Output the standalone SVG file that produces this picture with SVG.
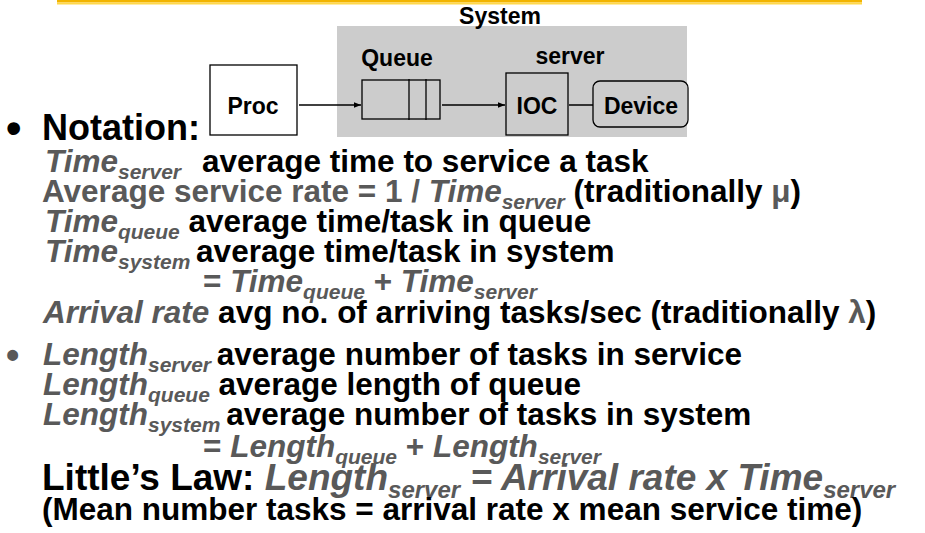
<svg xmlns="http://www.w3.org/2000/svg" width="925" height="533" viewBox="0 0 925 533">
  <style>
    text { font-family: "Liberation Sans", Arial, sans-serif; font-weight: bold; }
    .lbl { font-size: 23px; fill: #000; text-anchor: middle; }
    .body { font-size: 31.5px; fill: #000; }
    .g { fill: #595959; }
    .it { font-style: italic; }
    .sub { font-size: 21px; }
    .box { fill: none; stroke: #000; stroke-width: 1.3; }
    .wire { fill: none; stroke: #000; stroke-width: 1.5; }
  </style>
  <defs>
    <marker id="arrow" viewBox="0 0 10 10" refX="10" refY="5" markerWidth="7" markerHeight="7" orient="auto" markerUnits="userSpaceOnUse">
      <path d="M0,1 L10,5 L0,9 z" fill="#000"/>
    </marker>
  </defs>

  <!-- title rule -->
  <rect x="57" y="0" width="805" height="2.5" fill="#F2B400"/>
  <rect x="57" y="2.5" width="805" height="2" fill="#FFD84A"/>

  <!-- system boundary -->
  <g id="system">
    <rect x="337" y="26" width="350" height="111" fill="#CCCCCC"/>
    <text class="lbl" x="500" y="24">System</text>
    <text class="lbl" x="397" y="66">Queue</text>
    <text class="lbl" x="570" y="64">server</text>
  </g>

  <g id="proc">
    <rect class="box" x="210" y="65" width="87" height="70" style="fill:#fff"/>
    <text class="lbl" x="253" y="114">Proc</text>
  </g>

  <g id="queue">
    <rect class="box" x="362" y="80" width="78" height="39"/>
    <line x1="409" y1="79" x2="409" y2="120" stroke="#000" stroke-width="1.3"/>
    <line x1="426" y1="79" x2="426" y2="120" stroke="#000" stroke-width="1.3"/>
  </g>

  <g id="ioc">
    <rect class="box" x="506" y="73" width="62" height="62"/>
    <text class="lbl" x="537" y="114">IOC</text>
  </g>

  <g id="device">
    <rect class="box" x="593" y="81" width="95" height="46" rx="7"/>
    <text class="lbl" x="641" y="114">Device</text>
  </g>

  <g id="connectors">
    <line class="wire" x1="299" y1="105" x2="361" y2="105" marker-end="url(#arrow)"/>
    <line class="wire" x1="442" y1="105" x2="505" y2="105" marker-end="url(#arrow)"/>
    <line class="wire" x1="569" y1="105" x2="593" y2="105"/>
  </g>

  <!-- notation text -->
  <g id="notation" class="body">
    <text x="6" y="143" font-size="44">•</text>
    <text x="42" y="140" font-size="36">Notation:</text>

    <text x="45" y="172"><tspan class="g it">Time</tspan><tspan class="g it sub" dy="7">server</tspan><tspan dy="-7" dx="21">average time to service a task</tspan></text>

    <text x="42" y="202"><tspan class="g">Average service rate = 1 / </tspan><tspan class="g it">Time</tspan><tspan class="g it sub" dy="7">server</tspan><tspan dy="-7"> (traditionally </tspan><tspan class="g">μ</tspan><tspan>)</tspan></text>

    <text x="45" y="232"><tspan class="g it">Time</tspan><tspan class="g it sub" dy="7">queue</tspan><tspan dy="-7"> average time/task in queue</tspan></text>

    <text x="45" y="262"><tspan class="g it">Time</tspan><tspan class="g it sub" dy="7">system</tspan><tspan dy="-7" dx="-3"> average time/task in system</tspan></text>

    <text x="203" y="292"><tspan class="g">= </tspan><tspan class="g it">Time</tspan><tspan class="g it sub" dy="7">queue</tspan><tspan class="g" dy="-7"> + </tspan><tspan class="g it">Time</tspan><tspan class="g it sub" dy="7">server</tspan></text>

    <text x="43" y="323"><tspan class="g it">Arrival rate</tspan><tspan> avg no. of arriving tasks/sec (traditionally </tspan><tspan class="g">λ</tspan><tspan>)</tspan></text>

    <text x="6" y="368" class="g" font-size="38">•</text>
    <text x="43" y="365"><tspan class="g it">Length</tspan><tspan class="g it sub" dy="7">server</tspan><tspan dy="-7" dx="-3"> average number of tasks in service</tspan></text>

    <text x="43" y="395"><tspan class="g it">Length</tspan><tspan class="g it sub" dy="7">queue</tspan><tspan dy="-7"> average length of queue</tspan></text>

    <text x="43" y="425"><tspan class="g it">Length</tspan><tspan class="g it sub" dy="7">system</tspan><tspan dy="-7" dx="-3"> average number of tasks in system</tspan></text>

    <text x="203" y="457"><tspan class="g">= </tspan><tspan class="g it">Length</tspan><tspan class="g it sub" dy="7">queue</tspan><tspan class="g" dy="-7"> + </tspan><tspan class="g it">Length</tspan><tspan class="g it sub" dy="7">server</tspan></text>

    <text x="42" y="490" font-size="37"><tspan>Little’s Law: </tspan><tspan class="g it">Length</tspan><tspan class="g it" font-size="24" dy="8">server</tspan><tspan class="g it" dy="-8"> = Arrival rate x Time</tspan><tspan class="g it" font-size="24" dy="8">server</tspan></text>

    <text x="42" y="520">(Mean number tasks = arrival rate x mean service time)</text>
  </g>
</svg>
